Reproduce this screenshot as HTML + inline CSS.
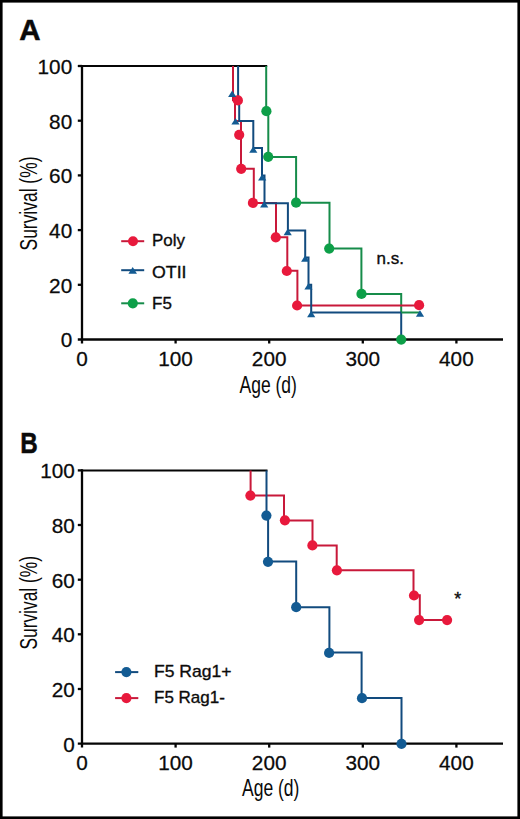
<!DOCTYPE html>
<html><head><meta charset="utf-8"><style>
html,body{margin:0;padding:0;background:#fff;}
svg{display:block;}
text{font-family:"Liberation Sans",sans-serif;fill:#0a0a0a;}
.tk{font-size:19.6px;stroke:#111;stroke-width:0.25px;}
.ti{font-size:23px;}
.lg{font-size:17px;stroke:#111;stroke-width:0.35px;}
.pl{font-size:29.5px;font-weight:bold;stroke:#111;stroke-width:0.5px;}
.ast{font-size:18px;stroke:#111;stroke-width:0.4px;}
</style></head><body>
<svg width="520" height="819" viewBox="0 0 520 819">
<rect width="520" height="819" fill="#fff"/>
<rect x="1.3" y="1.3" width="517.4" height="816.4" fill="none" stroke="#000" stroke-width="2.6"/>
<text x="19.3" y="40.4" class="pl">A</text>
<line x1="82" y1="64.9" x2="82" y2="343.5" stroke="#050505" stroke-width="2.3"/>
<line x1="77.8" y1="339.5" x2="503" y2="339.5" stroke="#050505" stroke-width="2.3"/>
<line x1="77.8" y1="66.0" x2="82" y2="66.0" stroke="#050505" stroke-width="2.3"/>
<line x1="77.8" y1="120.7" x2="82" y2="120.7" stroke="#050505" stroke-width="2.3"/>
<line x1="77.8" y1="175.4" x2="82" y2="175.4" stroke="#050505" stroke-width="2.3"/>
<line x1="77.8" y1="230.1" x2="82" y2="230.1" stroke="#050505" stroke-width="2.3"/>
<line x1="77.8" y1="284.8" x2="82" y2="284.8" stroke="#050505" stroke-width="2.3"/>
<line x1="175.6" y1="339.5" x2="175.6" y2="343.5" stroke="#050505" stroke-width="2.3"/>
<line x1="269.2" y1="339.5" x2="269.2" y2="343.5" stroke="#050505" stroke-width="2.3"/>
<line x1="362.8" y1="339.5" x2="362.8" y2="343.5" stroke="#050505" stroke-width="2.3"/>
<line x1="456.4" y1="339.5" x2="456.4" y2="343.5" stroke="#050505" stroke-width="2.3"/>
<text transform="translate(72.2 73.9) scale(1.06 1)" text-anchor="end" class="tk">100</text>
<text transform="translate(72.2 128.6) scale(1.06 1)" text-anchor="end" class="tk">80</text>
<text transform="translate(72.2 183.3) scale(1.06 1)" text-anchor="end" class="tk">60</text>
<text transform="translate(72.2 238.0) scale(1.06 1)" text-anchor="end" class="tk">40</text>
<text transform="translate(72.2 292.7) scale(1.06 1)" text-anchor="end" class="tk">20</text>
<text transform="translate(72.2 347.4) scale(1.06 1)" text-anchor="end" class="tk">0</text>
<text transform="translate(82.0 365.5) scale(1.06 1)" text-anchor="middle" class="tk">0</text>
<text transform="translate(175.6 365.5) scale(1.06 1)" text-anchor="middle" class="tk">100</text>
<text transform="translate(269.2 365.5) scale(1.06 1)" text-anchor="middle" class="tk">200</text>
<text transform="translate(362.8 365.5) scale(1.06 1)" text-anchor="middle" class="tk">300</text>
<text transform="translate(456.4 365.5) scale(1.06 1)" text-anchor="middle" class="tk">400</text>
<text x="239.5" y="392.5" class="ti" style="font-size:23.4px" textLength="57.4" lengthAdjust="spacingAndGlyphs">Age (d)</text>
<text transform="translate(37.3 250.5) rotate(-90)" x="0" y="0" class="ti" textLength="94.0" lengthAdjust="spacingAndGlyphs">Survival (%)</text>
<path d="M82 66 H267.2" fill="none" stroke="#050505" stroke-width="2.0" stroke-linejoin="miter" stroke-linecap="butt"/>
<path d="M266.2 66 V111.5 H268.3 V157 H296.1 V202.7 H329.5 V248.6 H361.4 V294.1 H401.2 V313" fill="none" stroke="#168c4a" stroke-width="2.0" stroke-linejoin="miter" stroke-linecap="butt"/>
<path d="M233 66 V100.3 H235 V121 H241 V168.8 H253.8 V203 H276 V237.2 H287.3 V270.7 H297.4 V305.4 H419" fill="none" stroke="#c8193a" stroke-width="2.0" stroke-linejoin="miter" stroke-linecap="butt"/>
<path d="M238.1 66 V100 H239.2 V120.9 H253.3 V148 H262 V175.5 H264.5 V203.3 H287.9 V230.5 H305.2 V257.5 H308.5 V284.8 H311.2 V312.5 H401.2" fill="none" stroke="#124b7e" stroke-width="2.0" stroke-linejoin="miter" stroke-linecap="butt"/>
<path d="M401.2 312.5 V339.5" fill="none" stroke="#124b7e" stroke-width="2.0" stroke-linejoin="miter" stroke-linecap="butt"/>
<path d="M401.2 312.5 H420" fill="none" stroke="#168c4a" stroke-width="2.0" stroke-linejoin="miter" stroke-linecap="butt"/>
<circle cx="266.4" cy="111.2" r="5.1" fill="#0d9f48"/>
<circle cx="268.2" cy="156.8" r="5.1" fill="#0d9f48"/>
<circle cx="296.1" cy="202.7" r="5.1" fill="#0d9f48"/>
<circle cx="329.2" cy="248.6" r="5.1" fill="#0d9f48"/>
<circle cx="361.5" cy="293.9" r="5.1" fill="#0d9f48"/>
<circle cx="401.2" cy="339.6" r="5.1" fill="#0d9f48"/>
<circle cx="237.9" cy="100.4" r="5.1" fill="#e8193c"/>
<circle cx="239.2" cy="134.8" r="5.1" fill="#e8193c"/>
<circle cx="241.2" cy="168.8" r="5.1" fill="#e8193c"/>
<circle cx="252.9" cy="202.9" r="5.1" fill="#e8193c"/>
<circle cx="275.8" cy="237.3" r="5.1" fill="#e8193c"/>
<circle cx="286.8" cy="271" r="5.1" fill="#e8193c"/>
<circle cx="297.1" cy="305.5" r="5.1" fill="#e8193c"/>
<circle cx="419.1" cy="305.2" r="5.1" fill="#e8193c"/>
<path d="M232.2 90.6 L236.3 97.1 L228.1 97.1 Z" fill="#135b93"/>
<path d="M235.5 118.0 L239.6 124.5 L231.4 124.5 Z" fill="#135b93"/>
<path d="M253.3 146.3 L257.4 152.8 L249.2 152.8 Z" fill="#135b93"/>
<path d="M262.2 174.0 L266.3 180.5 L258.1 180.5 Z" fill="#135b93"/>
<path d="M264.2 200.9 L268.3 207.4 L260.1 207.4 Z" fill="#135b93"/>
<path d="M287.7 228.7 L291.8 235.2 L283.6 235.2 Z" fill="#135b93"/>
<path d="M305.2 255.3 L309.3 261.8 L301.1 261.8 Z" fill="#135b93"/>
<path d="M308.5 283.0 L312.6 289.5 L304.4 289.5 Z" fill="#135b93"/>
<path d="M311.2 310.7 L315.3 317.2 L307.1 317.2 Z" fill="#135b93"/>
<path d="M420.0 310.3 L424.1 316.8 L415.9 316.8 Z" fill="#135b93"/>
<path d="M121.2 241.2 H144.2" fill="none" stroke="#c8193a" stroke-width="2.0" stroke-linejoin="miter" stroke-linecap="butt"/>
<circle cx="133" cy="241.2" r="5.0" fill="#e8193c"/>
<text x="152" y="246" class="lg">Poly</text>
<path d="M121.2 270.2 H144.2" fill="none" stroke="#124b7e" stroke-width="2.0" stroke-linejoin="miter" stroke-linecap="butt"/>
<path d="M132.7 266.9 L137.0 273.7 L128.4 273.7 Z" fill="#135b93"/>
<text x="152" y="277.6" class="lg" textLength="34.5" lengthAdjust="spacingAndGlyphs">OTII</text>
<path d="M121.2 303.3 H144.2" fill="none" stroke="#168c4a" stroke-width="2.0" stroke-linejoin="miter" stroke-linecap="butt"/>
<circle cx="132.8" cy="303.3" r="5.1" fill="#0d9f48"/>
<text x="152" y="308.6" class="lg">F5</text>
<text x="376.5" y="263.8" class="lg">n.s.</text>
<text x="20.3" y="452.7" class="pl" textLength="17.5" lengthAdjust="spacingAndGlyphs">B</text>
<line x1="82" y1="469.3" x2="82" y2="747.6" stroke="#050505" stroke-width="2.3"/>
<line x1="77.8" y1="743.6" x2="503" y2="743.6" stroke="#050505" stroke-width="2.3"/>
<line x1="77.8" y1="470.4" x2="82" y2="470.4" stroke="#050505" stroke-width="2.3"/>
<line x1="77.8" y1="525.0" x2="82" y2="525.0" stroke="#050505" stroke-width="2.3"/>
<line x1="77.8" y1="579.7" x2="82" y2="579.7" stroke="#050505" stroke-width="2.3"/>
<line x1="77.8" y1="634.3" x2="82" y2="634.3" stroke="#050505" stroke-width="2.3"/>
<line x1="77.8" y1="689.0" x2="82" y2="689.0" stroke="#050505" stroke-width="2.3"/>
<line x1="175.6" y1="743.6" x2="175.6" y2="747.6" stroke="#050505" stroke-width="2.3"/>
<line x1="269.2" y1="743.6" x2="269.2" y2="747.6" stroke="#050505" stroke-width="2.3"/>
<line x1="362.8" y1="743.6" x2="362.8" y2="747.6" stroke="#050505" stroke-width="2.3"/>
<line x1="456.4" y1="743.6" x2="456.4" y2="747.6" stroke="#050505" stroke-width="2.3"/>
<text transform="translate(74.8 478.3) scale(1.06 1)" text-anchor="end" class="tk">100</text>
<text transform="translate(74.8 532.9) scale(1.06 1)" text-anchor="end" class="tk">80</text>
<text transform="translate(74.8 587.6) scale(1.06 1)" text-anchor="end" class="tk">60</text>
<text transform="translate(74.8 642.2) scale(1.06 1)" text-anchor="end" class="tk">40</text>
<text transform="translate(74.8 696.9) scale(1.06 1)" text-anchor="end" class="tk">20</text>
<text transform="translate(74.8 751.5) scale(1.06 1)" text-anchor="end" class="tk">0</text>
<text transform="translate(82.0 769.5) scale(1.06 1)" text-anchor="middle" class="tk">0</text>
<text transform="translate(175.6 769.5) scale(1.06 1)" text-anchor="middle" class="tk">100</text>
<text transform="translate(269.2 769.5) scale(1.06 1)" text-anchor="middle" class="tk">200</text>
<text transform="translate(362.8 769.5) scale(1.06 1)" text-anchor="middle" class="tk">300</text>
<text transform="translate(456.4 769.5) scale(1.06 1)" text-anchor="middle" class="tk">400</text>
<text x="242" y="796.0" class="ti" style="font-size:23.4px" textLength="57.4" lengthAdjust="spacingAndGlyphs">Age (d)</text>
<text transform="translate(37.3 649.6) rotate(-90)" x="0" y="0" class="ti" textLength="93.6" lengthAdjust="spacingAndGlyphs">Survival (%)</text>
<path d="M82 470.5 H267.5" fill="none" stroke="#050505" stroke-width="2.1" stroke-linejoin="miter" stroke-linecap="butt"/>
<path d="M250.6 470.4 V495.5 H284 V520.6 H312.5 V545.4 H336.7 V570.2 H413.5 V595.3 H419.8 V620.1 H447.1" fill="none" stroke="#c8193a" stroke-width="2.0" stroke-linejoin="miter" stroke-linecap="butt"/>
<path d="M266.5 470.4 V515.7 H268.1 V561.6 H296.2 V607.2 H329.4 V652.6 H361.6 V698.1 H401.5 V743.6" fill="none" stroke="#124b7e" stroke-width="2.0" stroke-linejoin="miter" stroke-linecap="butt"/>
<circle cx="250.4" cy="495.6" r="5.1" fill="#e8193c"/>
<circle cx="284.9" cy="520.3" r="5.1" fill="#e8193c"/>
<circle cx="312.4" cy="545.4" r="5.1" fill="#e8193c"/>
<circle cx="336.9" cy="570.3" r="5.1" fill="#e8193c"/>
<circle cx="414" cy="595.5" r="5.1" fill="#e8193c"/>
<circle cx="419.1" cy="620.1" r="5.1" fill="#e8193c"/>
<circle cx="447.1" cy="620.1" r="5.1" fill="#e8193c"/>
<circle cx="266.4" cy="515.6" r="5.1" fill="#135b93"/>
<circle cx="268" cy="561.8" r="5.1" fill="#135b93"/>
<circle cx="296.2" cy="607.2" r="5.1" fill="#135b93"/>
<circle cx="329.1" cy="652.9" r="5.1" fill="#135b93"/>
<circle cx="362" cy="698.2" r="5.1" fill="#135b93"/>
<circle cx="401.5" cy="743.8" r="5.1" fill="#135b93"/>
<path d="M115.1 672.1 H138.3" fill="none" stroke="#124b7e" stroke-width="2.0" stroke-linejoin="miter" stroke-linecap="butt"/>
<circle cx="126.4" cy="672.1" r="5.1" fill="#135b93"/>
<text x="154" y="676.8" class="lg" textLength="77.5" lengthAdjust="spacingAndGlyphs">F5 Rag1+</text>
<path d="M115.1 698.1 H138.3" fill="none" stroke="#c8193a" stroke-width="2.0" stroke-linejoin="miter" stroke-linecap="butt"/>
<circle cx="126.4" cy="698.1" r="5.1" fill="#e8193c"/>
<text x="154" y="703" class="lg">F5 Rag1-</text>
<text x="457.8" y="604.5" text-anchor="middle" class="ast">*</text>
</svg>
</body></html>
